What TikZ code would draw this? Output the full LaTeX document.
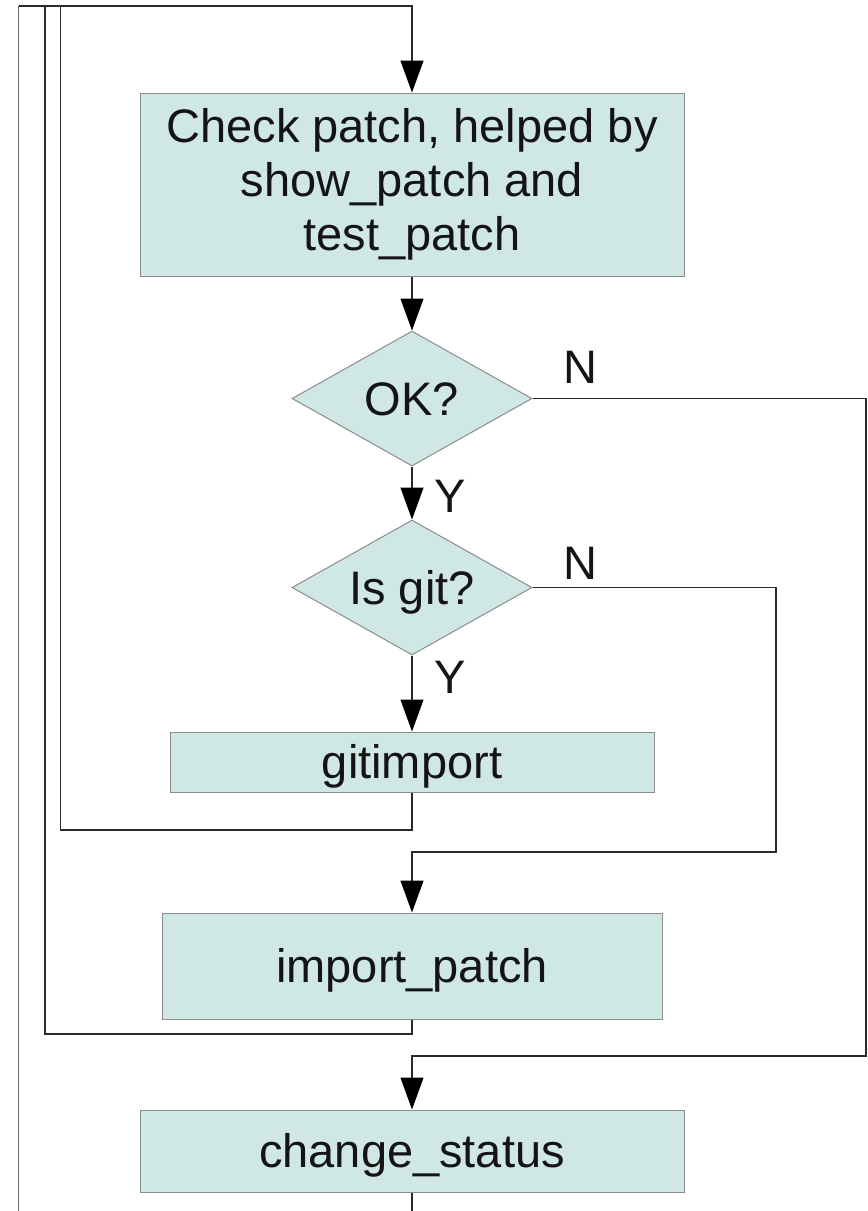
\documentclass[tikz,border=0pt]{standalone}
\usepackage{fontspec}
\setmainfont{Liberation Sans}
\usetikzlibrary{shapes.geometric,arrows.meta}
\definecolor{boxfill}{HTML}{CFE7E5}
\definecolor{boxline}{HTML}{8C8C8C}
\definecolor{wirec}{HTML}{2A2A2A}
\definecolor{ink}{HTML}{141414}
\begin{document}
\begin{tikzpicture}[x=1pt,y=-1pt,
  big/.style={font=\fontsize{47}{54}\selectfont, text=ink},
  proc/.style={big, draw=boxline, fill=boxfill, line width=1pt, inner sep=0pt},
  capc/.style={text height=33.7pt, text depth=0pt},
  dec/.style={big, capc, diamond, draw=boxline, fill=boxfill, line width=1pt, inner sep=0pt,
    aspect=1.78, minimum width=240pt, minimum height=135pt},
  wire/.style={draw=wirec, line width=1.2pt},
  arr/.style={wire, -{Triangle[length=32pt,width=23pt,color=black]}},
  lab/.style={big, capc, inner sep=0pt}]
\useasboundingbox (0,0) rectangle (868,1211);

\node[proc, align=center, minimum width=544pt, minimum height=183pt] (check) at (412,184.5)
  {Check patch, helped by\\show\_patch and\\test\_patch};
\node[dec] (ok) at (412,398.5) {OK?};
\node[dec] (isgit) at (412,587.5) {Is git?};
\node[proc, capc, minimum width=484pt, minimum height=60pt] (gitimp) at (412,762) {gitimport};
\node[proc, capc, minimum width=500pt, minimum height=106pt] (imp) at (412,966) {import\_patch};
\node[proc, capc, minimum width=544pt, minimum height=82pt] (chg) at (412,1151) {change\_status};

\node[lab] (n1) at (580,367) {N};
\node[lab] (n2) at (580,563) {N};
\node[lab] (y1) at (450,496) {Y};
\node[lab] (y2) at (450,677) {Y};

\coordinate (top) at (412,6);
\coordinate (outA) at (18.5,1211);
\coordinate (cornA) at (18.5,6);
\coordinate (cornB) at (45,6);
\coordinate (cornC) at (60.5,6);
\coordinate (endC) at (412,1211);

\draw[arr] (check) -- (ok);
\draw[arr] (ok) -- (isgit);
\draw[arr] (isgit) -- (gitimp);

\draw[arr] (ok.east) -- (866,398.5) -- (866,1056) -- (412,1056) -- (chg.north);
\draw[arr] (isgit.east) -- (776,587.5) -- (776,852) -- (412,852) -- (imp.north);

\draw[wire] (gitimp.south) -- (412,830) -- (60.5,830) -- (cornC);
\draw[wire] (imp.south) -- (412,1034) -- (45,1034) -- (cornB);
\draw[wire] (chg.south) -- (endC);
\draw[wire, draw=black!60] (outA) -- (cornA);
\draw[arr] (cornA) -- (top) -- (check.north);
\end{tikzpicture}
\end{document}
